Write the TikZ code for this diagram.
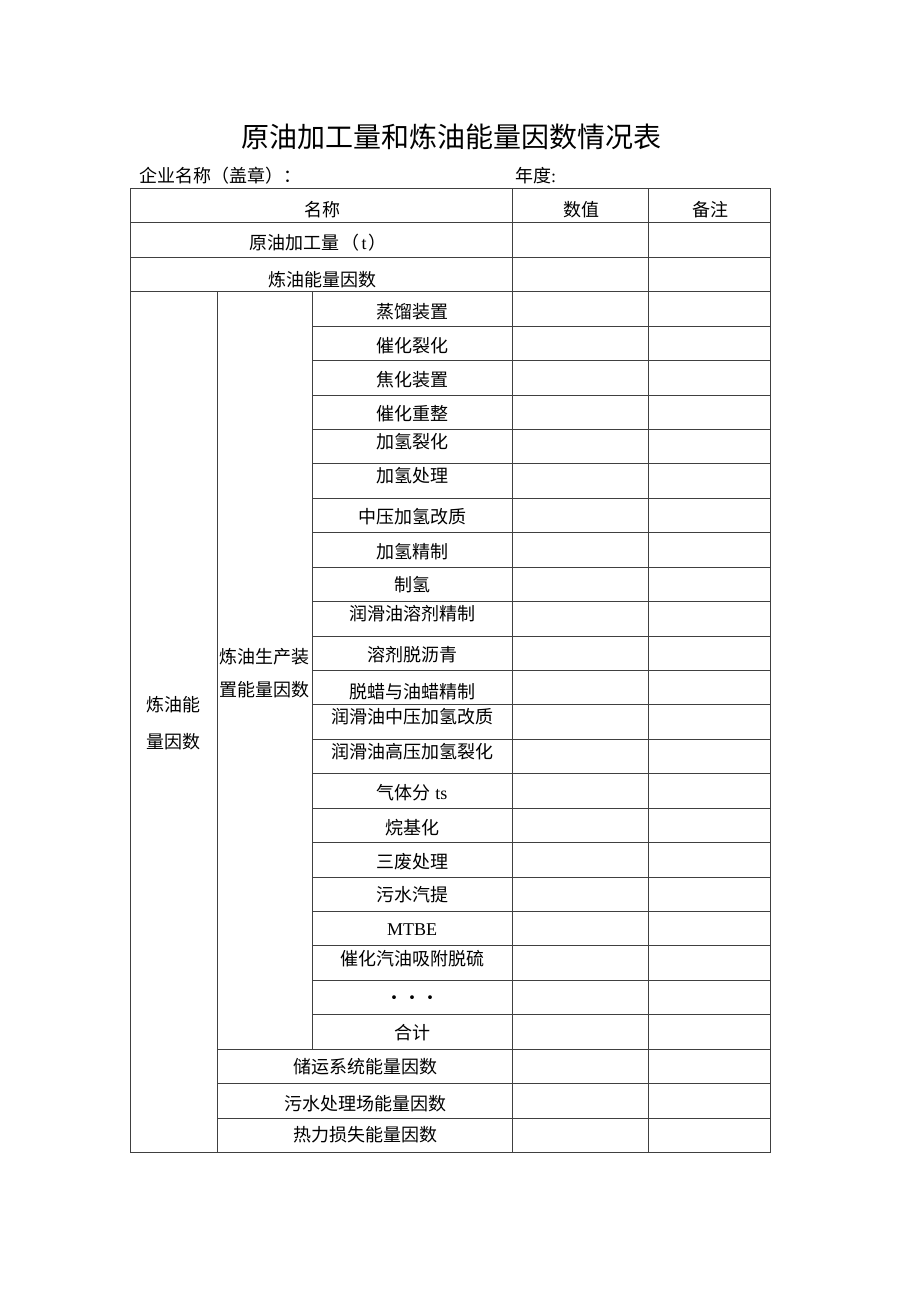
\documentclass[tikz,border=0pt]{standalone}
\usepackage{fontspec}
\setmainfont{Liberation Serif}
\newfontfamily\cjk{Noto Sans CJK SC}

\begin{document}
\begin{tikzpicture}[x=1pt, y=-1pt,
  cell/.style = {font=\cjk\fontsize{18}{18}\selectfont, inner sep=0pt, text height=15.8pt, text depth=2.2pt},
  head/.style = {font=\cjk\fontsize{28}{28}\selectfont, inner sep=0pt, text height=24.6pt, text depth=3.4pt},
  rule/.style = {draw=black!75, line width=0.9pt}]
\useasboundingbox (0,0) rectangle (920,1301);
% title and heading line
\node[head] (title) at (451,137) {原油加工量和炼油能量因数情况表};
\node[cell, anchor=west] (firm) at (139,175.5) {企业名称（盖章）：};
\node[cell, anchor=west] (year) at (515,175.5) {年度{\rmfamily :}};
% frame
\draw[rule] (130,188) rectangle (770,1152);
\draw[rule] (512,188) -- (512,1152) (648,188) -- (648,1152);
\draw[rule] (217,291) -- (217,1152) (312,291) -- (312,1049);
\draw[rule] (130,222) -- (770,222) (130,257) -- (770,257) (130,291) -- (770,291);
\draw[rule] (312,326) -- (770,326) (312,360) -- (770,360) (312,395) -- (770,395);
\draw[rule] (312,429) -- (770,429) (312,463) -- (770,463) (312,498) -- (770,498);
\draw[rule] (312,532) -- (770,532) (312,567) -- (770,567) (312,601) -- (770,601);
\draw[rule] (312,636) -- (770,636) (312,670) -- (770,670) (312,704) -- (770,704);
\draw[rule] (312,739) -- (770,739) (312,773) -- (770,773) (312,808) -- (770,808);
\draw[rule] (312,842) -- (770,842) (312,877) -- (770,877) (312,911) -- (770,911);
\draw[rule] (312,945) -- (770,945) (312,980) -- (770,980) (312,1014) -- (770,1014);
\draw[rule] (217,1049) -- (770,1049) (217,1083) -- (770,1083) (217,1118) -- (770,1118);
% header rows
\node[cell] (name) at (322,210) {名称};
\node[cell] (value) at (581,210) {数值};
\node[cell] (note) at (710,210) {备注};
\node[cell] (crude) at (318,243) {原油加工量\hspace{2pt}（\hspace{2pt}{\rmfamily t}\hspace{2pt}）};
\node[cell] (ef) at (322,279.5) {炼油能量因数};
% merged cells
\node[cell] (ef1) at (173.5,705) {炼油能};
\node[cell] (ef2) at (173.5,741.5) {量因数};
\node[cell] (unit1) at (264.5,656.5) {炼油生产装};
\node[cell] (unit2) at (264.5,690) {置能量因数};
% process units
\node[cell] (1) at (412,311.5) {蒸馏装置};
\node[cell] (2) at (412,346) {催化裂化};
\node[cell] (3) at (412,379.5) {焦化装置};
\node[cell] (4) at (412,414) {催化重整};
\node[cell] (5) at (412,442) {加氢裂化};
\node[cell] (6) at (412,476) {加氢处理};
\node[cell] (7) at (412,517) {中压加氢改质};
\node[cell] (8) at (412,551.5) {加氢精制};
\node[cell] (9) at (412,585) {制氢};
\node[cell] (10) at (412,613.5) {润滑油溶剂精制};
\node[cell] (11) at (412,655) {溶剂脱沥青};
\node[cell] (12) at (412,691.5) {脱蜡与油蜡精制};
\node[cell] (13) at (412,716.5) {润滑油中压加氢改质};
\node[cell] (14) at (412,751.5) {润滑油高压加氢裂化};
\node[cell] (15) at (412,793) {气体分{\rmfamily\ ts}};
\node[cell] (16) at (412,828) {烷基化};
\node[cell] (17) at (412,861.5) {三废处理};
\node[cell] (18) at (412,895) {污水汽提};
\node[cell] (19) at (412,928.5) {{\rmfamily MTBE}};
\node[cell] (20) at (412,958.5) {催化汽油吸附脱硫};
\node[cell] (21) at (412,997.5) {・・・};
\node[cell] (22) at (412,1033) {合计};
% other factors
\node[cell] (storage) at (365,1066.5) {储运系统能量因数};
\node[cell] (sewage) at (365,1104) {污水处理场能量因数};
\node[cell] (heat) at (365,1135) {热力损失能量因数};
\end{tikzpicture}
\end{document}
